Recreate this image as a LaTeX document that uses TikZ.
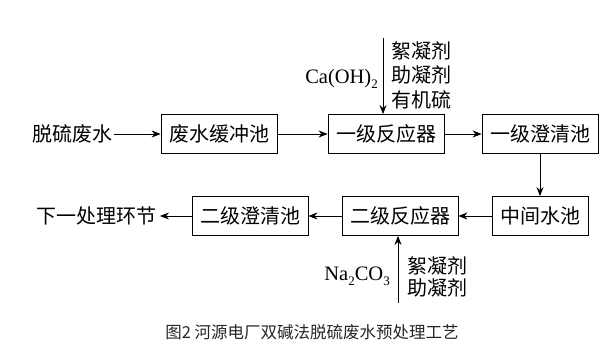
\documentclass[tikz,border=0pt]{standalone}
\usepackage{fontspec}
\setmainfont{Liberation Serif}
\newfontfamily\cjk{Noto Sans CJK SC}
\usetikzlibrary{arrows.meta}
\newcommand\chemsub[1]{\raisebox{-0.5ex}{\fontsize{13}{13}\selectfont #1}}

\begin{document}
\begin{tikzpicture}[x=1pt, y=-1pt,
	every node/.style={font=\fontsize{20}{24.5}\selectfont\cjk},
	pool/.style={draw, line width=0.8pt, minimum height=39pt, inner xsep=8pt},
	flow/.style={line width=0.8pt, -{Stealth[length=9pt,width=7pt]}},
	chem/.style={font=\fontsize{20.5}{24}\selectfont\rmfamily, inner sep=1pt}]
	\useasboundingbox (0,0) rectangle (616,359);
	% first line of treatment
	\node[anchor=east, inner sep=1pt] (inlet) at (114,134) {脱硫废水};
	\node[pool] (buffer) at (219,134) {废水缓冲池};
	\node[pool] (reactA) at (386,134) {一级反应器};
	\node[pool] (clarA) at (540,134) {一级澄清池};
	% second line of treatment
	\node[pool] (middle) at (540,216) {中间水池};
	\node[pool] (reactB) at (400,216) {二级反应器};
	\node[pool] (clarB) at (250,216) {二级澄清池};
	\node[anchor=east, inner sep=3pt] (outlet) at (160,216) {下一处理环节};
	\draw[flow] (inlet.east) -- (buffer.west);
	\draw[flow] (buffer) -- (reactA);
	\draw[flow] (reactA) -- (clarA);
	\draw[flow] (clarA) -- (middle);
	\draw[flow] (middle) -- (reactB);
	\draw[flow] (reactB) -- (clarB);
	\draw[flow] (clarB) -- (outlet);
	% dosing of the first reactor
	\coordinate (doseA) at (383,38);
	\draw[flow] (doseA) -- (doseA |- reactA.north);
	\node[anchor=west, align=left, inner sep=0pt] (agentA) at (391,75) {絮凝剂\\助凝剂\\有机硫};
	\node[chem, anchor=east] (caoh) at (379,79) {Ca(OH)\chemsub{2}};
	% dosing of the second reactor
	\coordinate (doseB) at (398,303);
	\draw[flow] (doseB) -- (doseB |- reactB.south);
	\node[anchor=west, align=left, inner sep=0pt, font=\fontsize{20}{22}\selectfont\cjk] (agentB) at (407,277) {絮凝剂\\助凝剂};
	\node[chem, anchor=east] (soda) at (391,276) {Na\chemsub{2}CO\chemsub{3}};
	\node[font=\fontsize{16.5}{18}\selectfont\cjk, text=black!85] (caption) at (312,332) {图2 河源电厂双碱法脱硫废水预处理工艺};
\end{tikzpicture}
\end{document}
